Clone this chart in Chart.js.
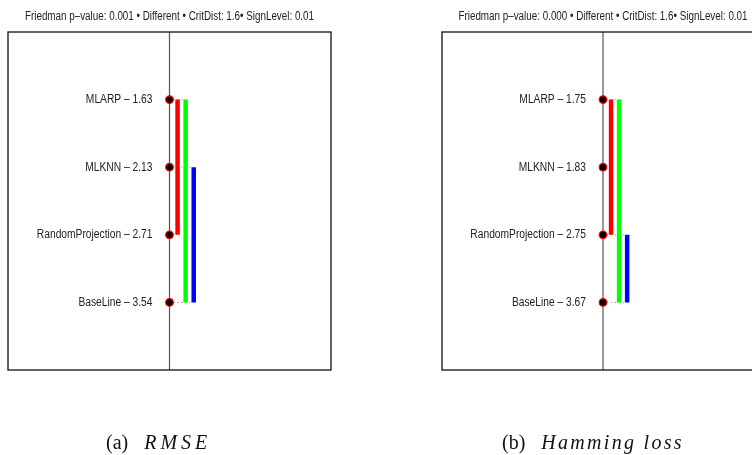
<!DOCTYPE html>
<html>
<head>
<meta charset="utf-8">
<script src="https://cdn.jsdelivr.net/npm/chart.js@4.4.0/dist/chart.umd.min.js"></script>
<style>
  html, body { margin: 0; padding: 0; background: #fff; overflow: hidden; width: 752px; height: 455px; }
  canvas { position: absolute; top: 0; display: block; }
  .caption { position: absolute; top: 431px; font-family: "Liberation Serif", serif; font-size: 20px; white-space: nowrap; color: #111; }
  .caption i { letter-spacing: 2.3px; margin-left: 16px; }
</style>
</head>
<body>
<canvas id="rmseChart" width="376" height="455" style="left:0"></canvas>
<canvas id="hammingChart" width="400" height="455" style="left:376px"></canvas>
<div class="caption" style="left:106px">(a)<i style="letter-spacing:4px">RMSE</i></div>
<div class="caption" style="left:502px">(b)<i>Hamming loss</i></div>

<script>
// Methods, ordered by average rank
const methodsRmse = ['MLARP', 'MLKNN', 'RandomProjection', 'BaseLine'];
const ranksRmse = [1.63, 2.13, 2.71, 3.54];
// groups with no significant difference (first and last method index)
const cliquesRmse = [[0, 2], [0, 3], [1, 3]];

const methodsHamming = ['MLARP', 'MLKNN', 'RandomProjection', 'BaseLine'];
const ranksHamming = [1.75, 1.83, 2.75, 3.67];
const cliquesHamming = [[0, 2], [0, 3], [2, 3]];

const pValues = ['0.001', '0.000'];
const critDist = 1.6;
const signLevel = 0.01;

const cliqueColors = ['#ff0000', '#00ff00', '#0000ff'];

// no narrow font installed, so squeeze the regular one
function narrowText(ctx, text, x, y, size, align) {
    ctx.save();
    ctx.translate(x, y);
    ctx.scale(0.82, 1);
    ctx.font = size + 'px "Liberation Sans", Arial, sans-serif';
    ctx.textAlign = align;
    ctx.textBaseline = 'middle';
    ctx.fillText(text, 0, 0);
    ctx.restore();
}

// Draws frame, method labels and the title
const cdPlugin = {
    id: 'cdPlugin',
    afterDraw(chart, args, opts) {
        const { ctx, chartArea: a, scales: { x, y } } = chart;
        const x0 = x.getPixelForValue(0);
        ctx.save();
        ctx.strokeStyle = '#111';
        ctx.lineWidth = 1.3;
        ctx.strokeRect(a.left, a.top, a.width, a.height);

        ctx.fillStyle = '#222';
        opts.methods.forEach((m, i) => {
            narrowText(ctx, `${m} \u2013 ${opts.ranks[i].toFixed(2)}`, x0 - 17, y.getPixelForValue(i), 12.5, 'right');
        });
        narrowText(ctx, opts.title, x0, a.top - 15, 12, 'center');
        ctx.restore();
    }
};

function makeChart(canvasId, methods, ranks, cliques, pValue, padding) {
    const datasets = [];

    // vertical axis line
    datasets.push({
        data: [{ x: 0, y: -1 }, { x: 0, y: 4 }],
        borderColor: '#555',
        borderWidth: 1.2,
        pointRadius: 0,
        order: 5
    });

    cliques.forEach((c, k) => {
        const bx = 0.05 * (k + 1);
        // dotted connectors
        c.forEach(idx => {
            datasets.push({
                data: [{ x: 0, y: idx }, { x: bx, y: idx }],
                borderColor: '#999',
                borderWidth: 1,
                borderDash: [1, 3],
                pointRadius: 0,
                order: 4
            });
        });
        datasets.push({
            data: [{ x: bx, y: c[0] }, { x: bx, y: c[1] }],
            borderColor: cliqueColors[k],
            borderWidth: 4.5,
            borderCapStyle: 'butt',
            pointRadius: 0,
            order: 2
        });
    });

    datasets.push({
        data: methods.map((m, i) => ({ x: 0, y: i })),
        showLine: false,
        pointRadius: 3.8,
        pointBackgroundColor: '#000',
        pointBorderColor: '#ff0000',
        pointBorderWidth: 1.2,
        order: 1
    });

    const title = `Friedman p\u2013value: ${pValue} \u2022 Different \u2022 CritDist: ${critDist}\u2022 SignLevel: ${signLevel}`;

    new Chart(document.getElementById(canvasId), {
        type: 'line',
        data: { datasets },
        options: {
            responsive: false,
            animation: false,
            layout: { padding },
            scales: {
                x: { type: 'linear', min: -1, max: 1, display: false },
                y: { type: 'linear', min: -1, max: 4, reverse: true, display: false }
            },
            plugins: {
                legend: { display: false },
                tooltip: { enabled: false },
                cdPlugin: { methods, ranks, title }
            }
        },
        plugins: [cdPlugin]
    });
}

makeChart('rmseChart', methodsRmse, ranksRmse, cliquesRmse, pValues[0],
    { left: 8, right: 45, top: 32, bottom: 85 });
makeChart('hammingChart', methodsHamming, ranksHamming, cliquesHamming, pValues[1],
    { left: 66, right: 12, top: 32, bottom: 85 });
</script>
</body>
</html>
